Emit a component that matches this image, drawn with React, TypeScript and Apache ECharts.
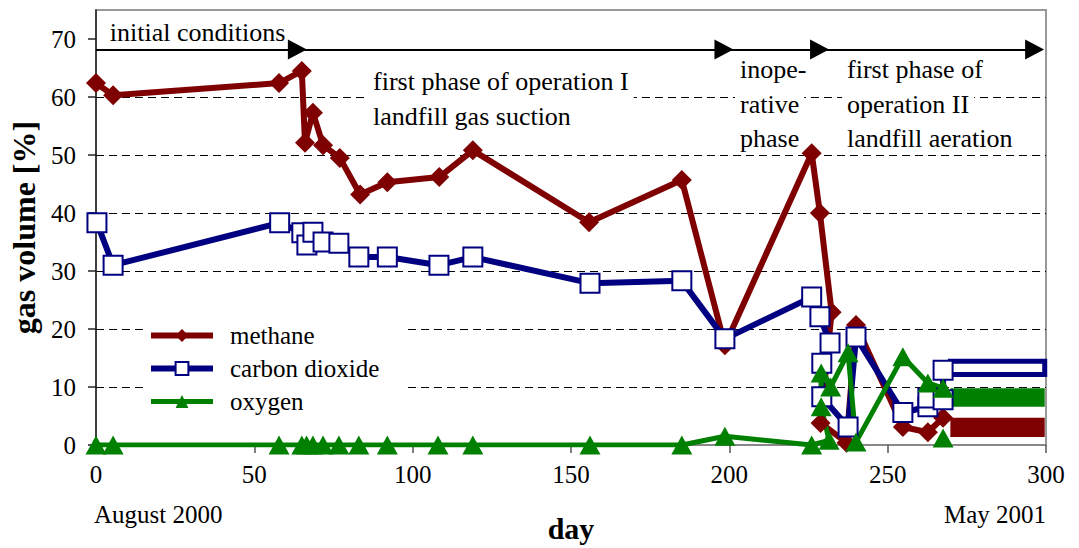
import React, { useEffect, useRef } from "react";
import * as echarts from "echarts";

// ---------- data ----------
const methaneDays = [0, 5.4, 57.8, 65, 66, 68.5, 71.7, 77, 83.4, 92, 108.4, 119, 155.7, 185, 198.6, 226, 228.6, 232.3, 228.8, 237, 240, 254.8, 262.7, 267.5];
const methaneValues = [62.4, 60.3, 62.4, 64.5, 52.1, 57.3, 51.7, 49.5, 43.2, 45.3, 46.2, 50.8, 38.4, 45.7, 17.2, 50.3, 40, 22.9, 3.8, 0.4, 20.7, 3.1, 2.2, 4.7];

const co2Days = [0.3, 5.4, 58, 65, 66.6, 68.5, 71.7, 76.7, 83, 92, 108.3, 119, 156, 185, 198.6, 226, 228.6, 231.8, 229.2, 229.2, 237.5, 240, 254.8, 262.7, 262.7, 267.5, 267.5];
const co2Values = [38.3, 31, 38.3, 36.6, 34.5, 36.7, 35, 34.8, 32.4, 32.4, 31, 32.4, 27.9, 28.3, 18.3, 25.5, 22.1, 17.6, 14.1, 8.3, 3.1, 18.6, 5.6, 6.6, 8.1, 7.8, 12.9];

const oxygenDays = [0, 5.4, 57.8, 65, 66.5, 68.5, 71.7, 76.7, 83, 92, 108, 119, 156, 185, 198.6, 226, 231.5, 229, 229, 232, 237.5, 240, 254.8, 262.7, 267.5, 267.5, 267.5];
const oxygenValues: (number | null)[] = [0, 0, 0, 0, 0, 0, 0, 0, 0, 0, 0, 0, 0, 0, 1.5, 0, 0.8, 6.6, 12.4, 10, 15.9, 0.5, 15.2, 10.7, 9.8, null, 1.2];

// final ranges (day span and value band) shown as bars at the right
const rangeDays = [269.8, 299.6];
const methaneRange = [1.4, 4.7];
const co2Range = [11.8, 14.8];
const oxygenRange = [6.6, 9.8];

// phase arrows (day boundaries) at a fixed level
const phaseArrowDays = [0, 63.6, 198.3, 228.5, 296.4];
const phaseArrowLevel = 68.2;

const xTicks = [0, 50, 100, 150, 200, 250, 300];
const yTicks = [0, 10, 20, 30, 40, 50, 60, 70];

const phaseTexts = [
  ["initial conditions"],
  ["first phase of operation I", "landfill gas suction"],
  ["inope-", "rative", "phase"],
  ["first phase of", "operation II", "landfill aeration"],
];
// anchors (day, value of first line) and layout
const phaseTextDays = [2.8, 85.9, 201.8, 235.6];
const phaseTextLevels = [71.2, 62.6, 64.7, 64.7];
const phaseLineStep = [35, 35, 34.5, 34.5];
const phaseBoxHeight = [34, 34, 30, 30];

const MAROON = "#7f0000";
const NAVY = "#000080";
const GREEN = "#008000";
const FONT = "Liberation Serif";

export default function App() {
  const ref = useRef<HTMLDivElement>(null);

  useEffect(() => {
    const chart = echarts.init(ref.current!, null, { renderer: "svg" });
    const toData = (days: number[], vals: (number | null)[]) =>
      days.map((d, i) => [d, vals[i] === null ? "-" : vals[i]]);

    const arrowSegments = phaseArrowDays.slice(1).map((d, i) => [
      { coord: [phaseArrowDays[i], phaseArrowLevel] },
      { coord: [d, phaseArrowLevel] },
    ]);

    const band = (r: number[], style: any) => ({
      silent: true,
      label: { show: false },
      itemStyle: style,
      emphasis: { disabled: true },
      data: [[{ coord: [rangeDays[0], r[1]] }, { coord: [rangeDays[1], r[0]] }]],
    });

    chart.setOption({
      animation: false,
      grid: {
        left: 96,
        right: 33,
        top: 10,
        bottom: 103,
        show: true,
        borderColor: "#999",
        borderWidth: 2,
        backgroundColor: "transparent",
      },
      xAxis: {
        type: "value",
        min: 0,
        max: 300,
        interval: 50,
        name: "day",
        nameLocation: "middle",
        nameGap: 68,
        nameTextStyle: { fontSize: 30, fontWeight: "bold", color: "#000", fontFamily: FONT },
        axisLine: { show: true, lineStyle: { color: "#888", width: 2 } },
        axisTick: { show: true, length: 8, lineStyle: { color: "#555", width: 1.5 }, customValues: xTicks },
        axisLabel: { fontSize: 25, color: "#000", margin: 17, fontFamily: FONT, customValues: xTicks },
        splitLine: { show: false },
      },
      yAxis: {
        type: "value",
        min: 0,
        max: 75,
        interval: 10,
        name: "gas volume [%]",
        nameLocation: "middle",
        nameGap: 52,
        nameTextStyle: { fontSize: 32, fontWeight: "bold", color: "#000", fontFamily: FONT },
        axisLine: { show: true, lineStyle: { color: "#222", width: 1.5 } },
        axisTick: { show: true, length: 8, lineStyle: { color: "#222", width: 1.5 }, customValues: yTicks },
        axisLabel: { fontSize: 25, color: "#000", margin: 20, fontFamily: FONT, customValues: yTicks },
        splitLine: {
          show: true,
          showMinLine: false,
          showMaxLine: false,
          lineStyle: { type: [8, 5], color: "#000", width: 1 },
        },
      },
      legend: {
        orient: "vertical",
        left: 143,
        top: 318,
        itemWidth: 62,
        itemHeight: 16,
        itemGap: 8,
        backgroundColor: "#fff",
        padding: [5, 25, 5, 5],
        lineStyle: { width: "inherit" },
        textStyle: { fontSize: 25, color: "#000", lineHeight: 25, fontFamily: FONT, padding: [0, 0, 0, 12] },
        data: ["methane", "carbon dioxide", "oxygen"],
      },
      series: [
        {
          name: "methane",
          type: "line",
          data: toData(methaneDays, methaneValues),
          symbol: "diamond",
          symbolSize: 20,
          showAllSymbol: true,
          lineStyle: { color: MAROON, width: 6 },
          itemStyle: { color: MAROON },
          emphasis: { disabled: true },
          markLine: {
            silent: true,
            symbol: ["none", "triangle"],
            symbolSize: [20, 19],
            label: { show: false },
            emphasis: { disabled: true },
            lineStyle: { color: "#000", width: 2, type: "solid" },
            itemStyle: { color: "#000" },
            data: arrowSegments,
          },
          markArea: band(methaneRange, { color: MAROON, opacity: 1 }),
        },
        {
          name: "carbon dioxide",
          type: "line",
          data: toData(co2Days, co2Values),
          symbol: "rect",
          symbolSize: 19,
          showAllSymbol: true,
          lineStyle: { color: NAVY, width: 6 },
          itemStyle: { color: "#fff", borderColor: NAVY, borderWidth: 2 },
          emphasis: { disabled: true },
          markArea: band(
            [co2Range[0] + 0.35, co2Range[1] - 0.35],
            { color: "#fff", borderColor: NAVY, borderWidth: 5, opacity: 1 }
          ),
        },
        {
          name: "oxygen",
          type: "line",
          data: toData(oxygenDays, oxygenValues),
          symbol: "triangle",
          symbolSize: [21, 19],
          showAllSymbol: true,
          connectNulls: false,
          lineStyle: { color: GREEN, width: 5 },
          itemStyle: { color: GREEN },
          emphasis: { disabled: true },
          markArea: band(oxygenRange, { color: GREEN, opacity: 1 }),
        },
      ],
    });

    const px = (d: number, v: number) => chart.convertToPixel({ gridIndex: 0 }, [d, v]) as number[];
    const elements: any[] = [];
    phaseTexts.forEach((lines, bi) => {
      const p = px(phaseTextDays[bi], phaseTextLevels[bi]);
      lines.forEach((t, li) => {
        elements.push({
          type: "text",
          z: 1,
          x: p[0],
          y: p[1] + li * phaseLineStep[bi],
          silent: true,
          style: {
            text: t,
            fontSize: 26,
            fontFamily: FONT,
            fill: "#000",
            align: "left",
            verticalAlign: "middle",
            lineHeight: phaseBoxHeight[bi],
            backgroundColor: "#fff",
            padding: [0, 5],
          },
        });
      });
    });
    const p0 = px(xTicks[0], 0);
    const p1 = px(xTicks[xTicks.length - 1], 0);
    elements.push({
      type: "text",
      x: p0[0] - 2,
      y: p0[1] + 69,
      silent: true,
      style: { text: "August 2000", fontSize: 25, fontFamily: FONT, fill: "#000", align: "left", verticalAlign: "middle" },
    });
    elements.push({
      type: "text",
      x: p1[0],
      y: p1[1] + 69,
      silent: true,
      style: { text: "May 2001", fontSize: 25, fontFamily: FONT, fill: "#000", align: "right", verticalAlign: "middle" },
    });
    chart.setOption({ graphic: { elements } });

    return () => chart.dispose();
  }, []);

  return (
    <div
      ref={ref}
      style={{ position: "absolute", left: 0, top: 0, width: 1079, height: 548, background: "#fff" }}
    />
  );
}
